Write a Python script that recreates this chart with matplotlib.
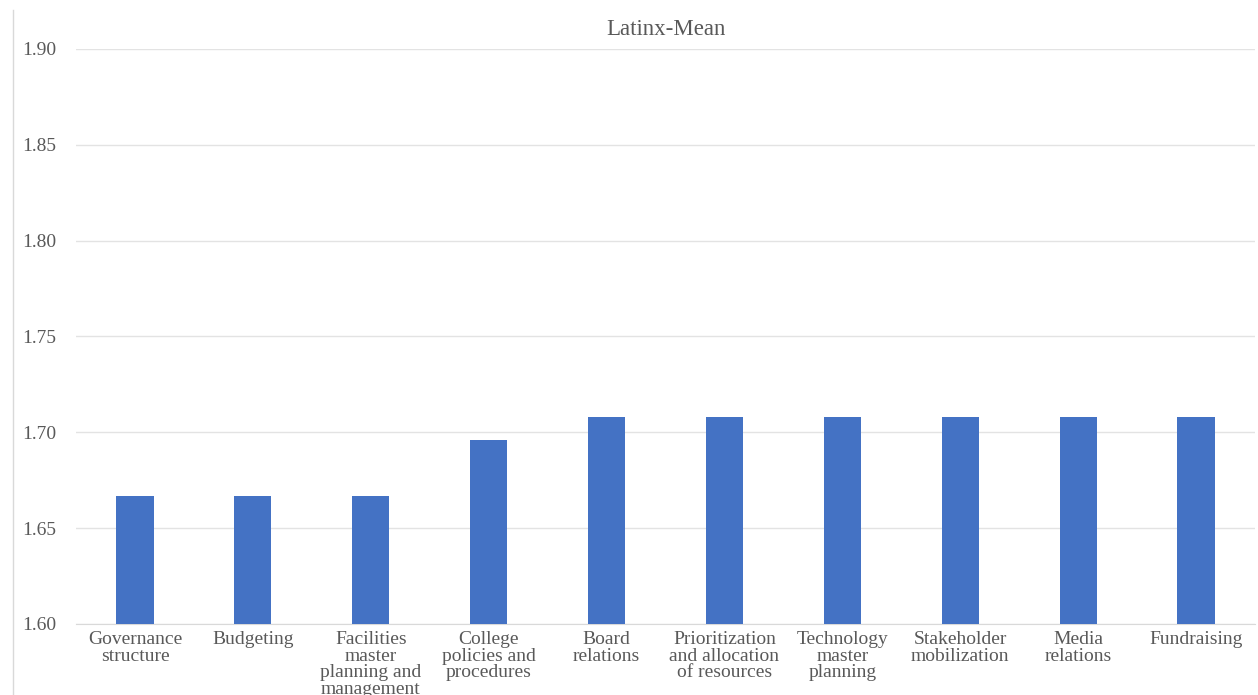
import matplotlib
matplotlib.use("Agg")
import matplotlib.pyplot as plt
from matplotlib.lines import Line2D

categories = [
    "Governance\nstructure",
    "Budgeting",
    "Facilities\nmaster\nplanning and\nmanagement",
    "College\npolicies and\nprocedures",
    "Board\nrelations",
    "Prioritization\nand allocation\nof resources",
    "Technology\nmaster\nplanning",
    "Stakeholder\nmobilization",
    "Media\nrelations",
    "Fundraising",
]
means = [1.667, 1.667, 1.667, 1.696, 1.708, 1.708, 1.708, 1.708, 1.708, 1.708]
y_ticks = [1.60, 1.65, 1.70, 1.75, 1.80, 1.85, 1.90]

text_color = "#595959"
plt.rcParams["font.family"] = ["Liberation Serif", "DejaVu Serif"]

W, H = 1258, 695
fig = plt.figure(figsize=(W / 100, H / 100), dpi=100)
left, right, top, bottom = 76, 1255, 49, 624
ax = fig.add_axes([left / W, 1 - bottom / H, (right - left) / W, (bottom - top) / H])

x = list(range(len(categories)))
ax.bar(x, means, width=0.315, color="#4472C4", zorder=3)

ax.set_ylim(1.60, 1.90)
ax.set_xlim(-0.5, len(categories) - 0.5)
ax.set_yticks(y_ticks)
ax.set_yticklabels([f"{v:.2f}" for v in y_ticks])
ax.set_xticks(x)
ax.set_xticklabels(categories, linespacing=0.97)

ax.grid(axis="y", color="#e3e3e3", linewidth=1.0, zorder=0)
for s in ["top", "right", "left"]:
    ax.spines[s].set_visible(False)
ax.spines["bottom"].set_color("#d9d9d9")
ax.tick_params(axis="both", length=0, labelsize=14, colors=text_color)
ax.tick_params(axis="y", pad=14)
ax.tick_params(axis="x", pad=5)

ax.set_title("Latinx-Mean", fontsize=16.5, color=text_color, pad=10)

# thin frame line on the left edge of the chart area
fig.add_artist(Line2D([13 / W, 13 / W], [0, 1 - 10 / H], color="#d9d9d9",
                      linewidth=1.0, transform=fig.transFigure))

fig.savefig("out.png", dpi=100, facecolor="white")
